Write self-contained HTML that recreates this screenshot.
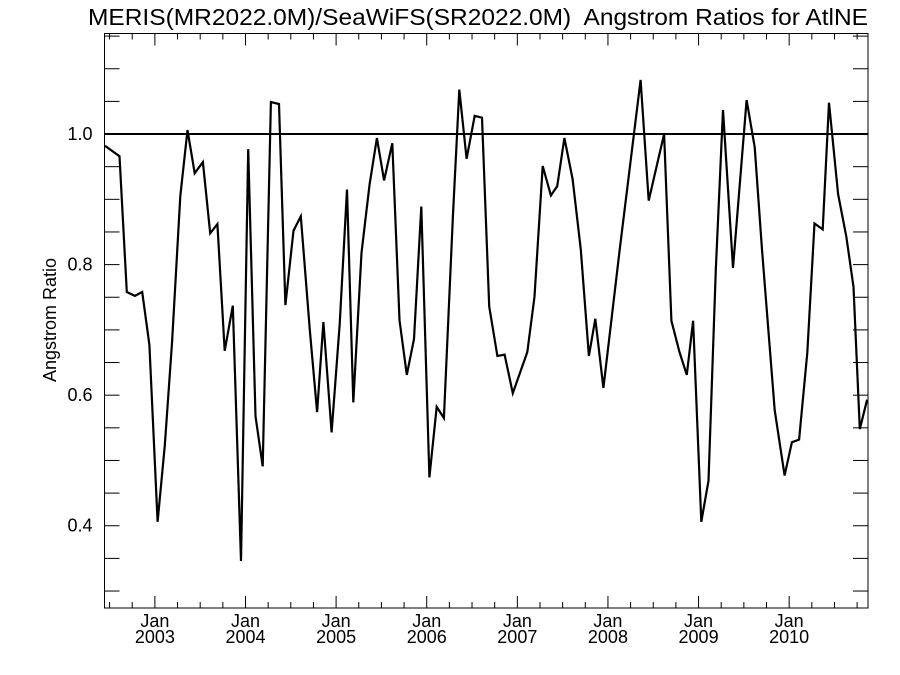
<!DOCTYPE html>
<html><head><meta charset="utf-8"><style>
body{margin:0;background:#fff;}
svg{display:block;font-family:"Liberation Sans",Arial,sans-serif;}
</style></head><body>
<svg id="chart" width="900" height="675" viewBox="0 0 900 675" xmlns="http://www.w3.org/2000/svg">
<text x="88" y="25" font-size="23" xml:space="preserve" style="white-space:pre" textLength="780" lengthAdjust="spacingAndGlyphs">MERIS(MR2022.0M)/SeaWiFS(SR2022.0M)  Angstrom Ratios for AtlNE</text>
<text transform="translate(56,320) rotate(-90)" font-size="18" text-anchor="middle">Angstrom Ratio</text>
<rect x="104.5" y="33.5" width="763.5" height="574.5" fill="none" stroke="#000" stroke-width="1"/>
<g id="axes"></g>
<g id="series"></g>
</svg>
<script>
const times=[2002.45,2002.61,2002.69,2002.78,2002.86,2002.94,2003.03,2003.11,2003.19,2003.28,2003.36,2003.44,2003.53,2003.61,2003.69,2003.77,2003.86,2003.95,2004.03,2004.11,2004.19,2004.28,2004.37,2004.44,2004.53,2004.61,2004.71,2004.79,2004.86,2004.95,2005.04,2005.12,2005.19,2005.28,2005.37,2005.45,2005.53,2005.62,2005.70,2005.78,2005.86,2005.94,2006.03,2006.11,2006.19,2006.29,2006.36,2006.44,2006.53,2006.61,2006.69,2006.78,2006.86,2006.95,2007.11,2007.19,2007.28,2007.37,2007.44,2007.52,2007.61,2007.70,2007.79,2007.86,2007.95,2008.13,2008.36,2008.45,2008.62,2008.70,2008.79,2008.87,2008.94,2009.03,2009.11,2009.19,2009.27,2009.38,2009.53,2009.62,2009.70,2009.84,2009.95,2010.03,2010.11,2010.20,2010.28,2010.37,2010.44,2010.54,2010.63,2010.71,2010.78,2010.86];
const ratios=[0.982,0.966,0.758,0.752,0.758,0.677,0.406,0.523,0.682,0.905,1.006,0.940,0.957,0.848,0.862,0.668,0.737,0.346,0.977,0.568,0.491,1.049,1.046,0.738,0.852,0.874,0.700,0.574,0.712,0.543,0.709,0.915,0.589,0.818,0.923,0.994,0.929,0.986,0.715,0.631,0.686,0.889,0.474,0.582,0.565,0.877,1.068,0.962,1.028,1.025,0.736,0.660,0.662,0.603,0.666,0.751,0.951,0.906,0.920,0.994,0.931,0.823,0.660,0.717,0.611,0.823,1.083,0.898,1.000,0.714,0.666,0.631,0.714,0.406,0.469,0.792,1.037,0.795,1.052,0.980,0.823,0.577,0.477,0.528,0.532,0.665,0.863,0.854,1.048,0.908,0.843,0.766,0.548,0.593];
const yTicks=[0.4,0.6,0.8,1.0];
const yTickLabels=["0.4","0.6","0.8","1.0"];
const xYears=[2003,2004,2005,2006,2007,2008,2009,2010];
const referenceValue=[1.0];

const L=104.5,R=868,T=33.5,B=608;
const tMin=2002.444,tMax=2010.87,vMin=0.274,vMax=1.154;
const xS=t=>L+(t-tMin)/(tMax-tMin)*(R-L);
const yS=v=>B-(v-vMin)/(vMax-vMin)*(B-T);
const NS="http://www.w3.org/2000/svg";
const axes=document.getElementById('axes'),series=document.getElementById('series');
function mk(tag,attrs,parent){const e=document.createElementNS(NS,tag);for(const k in attrs)e.setAttribute(k,attrs[k]);parent.appendChild(e);return e;}

for(let k=Math.ceil(vMin/0.05);k*0.05<=vMax;k++){
  const v=k*0.05,y=yS(v);
  const a=mk('line',{x1:L,x2:L+15,y1:y,y2:y,stroke:'#000','stroke-width':1},axes);
  
  
  const b=mk('line',{x1:R,x2:R-15,y1:y,y2:y,stroke:'#000','stroke-width':1},axes);
  
  
}
yTicks.forEach((v,i)=>{
  const t=mk('text',{x:L-12,y:yS(v)+6,'font-size':18,'text-anchor':'end'},axes);
  t.textContent=yTickLabels[i];
  
  
});
for(let q=Math.ceil(tMin*4);q/4<=tMax;q++){
  const t=q/4,x=xS(t),major=(q%4===0),len=major?12:6;
  const a=mk('line',{x1:x,x2:x,y1:B,y2:B-len,stroke:'#000','stroke-width':1},axes);
  
  
  const b=mk('line',{x1:x,x2:x,y1:T,y2:T+len,stroke:'#000','stroke-width':1},axes);
  
  
}
xYears.forEach(yr=>{
  const x=xS(yr);
  const t1=mk('text',{x:x,y:627,'font-size':18,'text-anchor':'middle'},axes);
  t1.textContent='Jan';
  
  
  const t2=mk('text',{x:x,y:643,'font-size':18,'text-anchor':'middle'},axes);
  t2.textContent=String(yr);
  
  
});
const ref=mk('line',{x1:L,x2:R,y1:yS(referenceValue[0]),y2:yS(referenceValue[0]),stroke:'#000','stroke-width':2},series);


const pts=times.map((t,i)=>xS(t).toFixed(1)+','+yS(ratios[i]).toFixed(1)).join(' ');
const pl=mk('polyline',{points:pts,fill:'none',stroke:'#000','stroke-width':2.2,'stroke-linejoin':'miter'},series);


</script>
</body></html>
